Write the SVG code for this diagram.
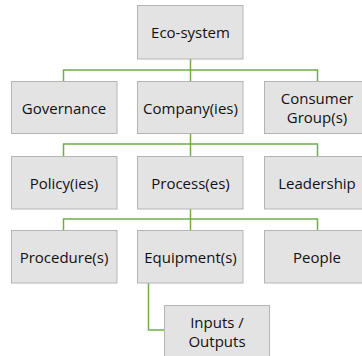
<svg xmlns="http://www.w3.org/2000/svg" width="362" height="356" viewBox="0 0 362 356">
<style>
.box{fill:#e3e3e3;stroke:#b4b4b4;stroke-width:1}
.lbl{font-family:"Open Sans","Liberation Sans",sans-serif;font-size:15px;fill:#111;text-anchor:middle;dominant-baseline:central}
.conn{fill:none;stroke:#70ad47;stroke-width:1.5}
</style>
<rect width="362" height="356" fill="#fff"/>
<g id="connectors">
<path class="conn" d="M190.5 59V70M63.5 82V70H317.5V82M190.5 70V82"/>
<path class="conn" d="M190.5 133.5V144M63.5 156V144H317.5V156M190.5 144V156"/>
<path class="conn" d="M190.5 209V219M63.5 230V219H317.5V230M190.5 219V230"/>
<path class="conn" d="M148.5 283V330H164.5"/>
</g>
<g id="eco"><rect class="box" x="137.5" y="5.5" width="105.5" height="53.5"/><text class="lbl" x="190.5" y="32">Eco-system</text></g>
<g id="governance"><rect class="box" x="11.5" y="81.5" width="105.5" height="52"/><text class="lbl" x="64" y="107.5">Governance</text></g>
<g id="company"><rect class="box" x="137.5" y="81.5" width="105.5" height="52"/><text class="lbl" x="190.5" y="107.5">Company(ies)</text></g>
<g id="consumer"><rect class="box" x="264.5" y="81.5" width="105.5" height="52"/><text class="lbl" x="317" y="98">Consumer</text><text class="lbl" x="317" y="117">Group(s)</text></g>
<g id="policy"><rect class="box" x="11.5" y="156.5" width="105.5" height="52.5"/><text class="lbl" x="64" y="182.5">Policy(ies)</text></g>
<g id="process"><rect class="box" x="137.5" y="156.5" width="105.5" height="52.5"/><text class="lbl" x="190.5" y="182.5">Process(es)</text></g>
<g id="leadership"><rect class="box" x="264.5" y="156.5" width="105.5" height="52.5"/><text class="lbl" x="317" y="182.5">Leadership</text></g>
<g id="procedure"><rect class="box" x="11.5" y="230.5" width="105.5" height="52.5"/><text class="lbl" x="64" y="256.5">Procedure(s)</text></g>
<g id="equipment"><rect class="box" x="137.5" y="230.5" width="105.5" height="52.5"/><text class="lbl" x="190.5" y="256.5">Equipment(s)</text></g>
<g id="people"><rect class="box" x="264.5" y="230.5" width="105.5" height="52.5"/><text class="lbl" x="317" y="256.5">People</text></g>
<g id="inputs"><rect class="box" x="164.5" y="305.5" width="105" height="53"/><text class="lbl" x="217" y="322">Inputs /</text><text class="lbl" x="217" y="341">Outputs</text></g>
</svg>
